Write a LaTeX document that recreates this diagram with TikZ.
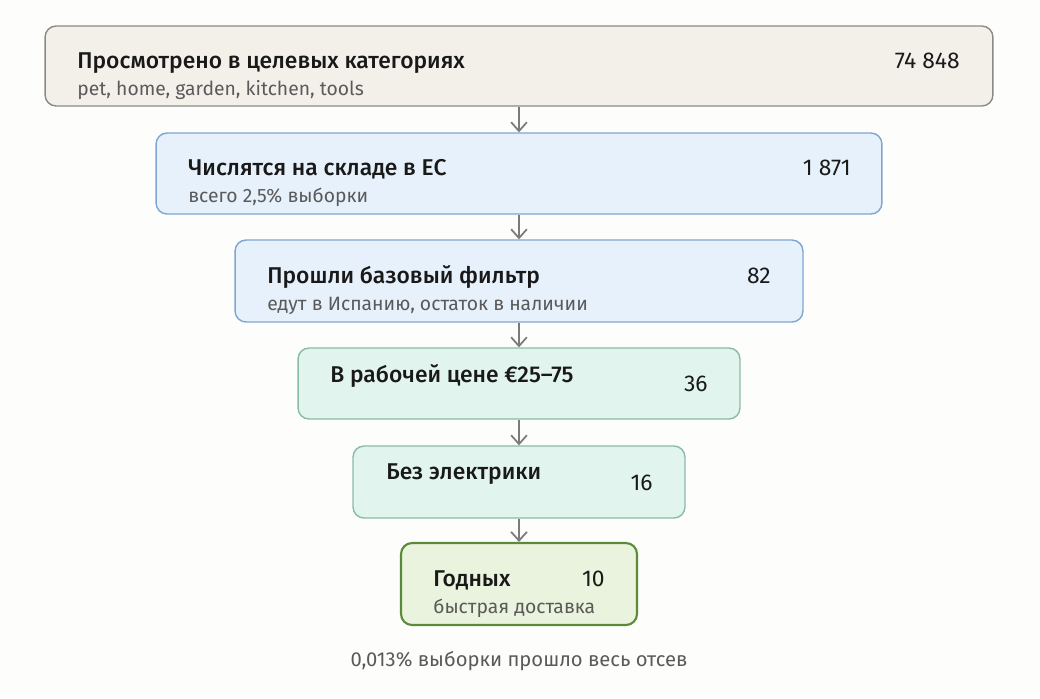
\documentclass[tikz,border=0pt]{standalone}
\usepackage{fontspec}
\setmainfont{Fira Sans}[BoldFont={Fira Sans Medium}]
\usetikzlibrary{arrows.meta}

\definecolor{paper}{HTML}{FDFDFB}
\definecolor{beigefill}{HTML}{F3F0EA}
\definecolor{beigeline}{HTML}{8C8A85}
\definecolor{bluefill}{HTML}{E7F1FB}
\definecolor{blueline}{HTML}{7FA6D3}
\definecolor{tealfill}{HTML}{E2F4EE}
\definecolor{tealline}{HTML}{8ABBA8}
\definecolor{leaffill}{HTML}{EAF3DD}
\definecolor{leafline}{HTML}{5B8A3A}
\definecolor{subgray}{HTML}{5A5A5A}
\definecolor{arrowgray}{HTML}{7B7B7B}

\tikzset{
    stage/.style={draw, rounded corners=0.22cm, line width=0.8pt, inner sep=0pt},
    title/.style={anchor=base west, inner sep=0pt, text=black!90, font=\bfseries\fontsize{13}{15}\selectfont},
    count/.style={anchor=base east, inner sep=0pt, text=black!90, font=\fontsize{13}{15}\selectfont},
    note/.style={anchor=base west, inner sep=0pt, text=subgray, font=\fontsize{11}{13}\selectfont},
    flow/.style={draw=arrowgray, line width=1pt, -{Straight Barb[length=5pt,width=9pt]}}
}

\begin{document}
\begin{tikzpicture}[x=0.02cm,y=-0.02cm]
    \fill [paper] (0,0) rectangle (1040,698);

    \node [stage, fill=beigefill, draw=beigeline, minimum width=18.96cm, minimum height=1.6cm] (viewed) at (519,66) {};
    \node [stage, fill=bluefill,  draw=blueline,  minimum width=14.52cm, minimum height=1.62cm] (stock)  at (519,173.5) {};
    \node [stage, fill=bluefill,  draw=blueline,  minimum width=11.36cm, minimum height=1.64cm] (basic)  at (519,281) {};
    \node [stage, fill=tealfill,  draw=tealline,  minimum width=8.84cm,  minimum height=1.42cm] (price)  at (519,383.5) {};
    \node [stage, fill=tealfill,  draw=tealline,  minimum width=6.64cm,  minimum height=1.44cm] (noelec) at (519,482) {};
    \node [stage, fill=leaffill,  draw=leafline,  line width=1.2pt, minimum width=4.72cm, minimum height=1.64cm] (good) at (519,584) {};

    \node [title] (viewedT) at (77,68)  {Просмотрено в целевых категориях};
    \node [note]  (viewedS) at (77,95)  {pet, home, garden, kitchen, tools};
    \node [count] (viewedN) at (960,68) {74 848};

    \node [title] (stockT) at (188,175) {Числятся на складе в ЕС};
    \node [note]  (stockS) at (188,202) {всего 2,5\% выборки};
    \node [count] (stockN) at (851,175) {1 871};

    \node [title] (basicT) at (267,283) {Прошли базовый фильтр};
    \node [note]  (basicS) at (267,310) {едут в Испанию, остаток в наличии};
    \node [count] (basicN) at (771,283) {82};

    \node [title] (priceT) at (330,382) {В рабочей цене €25–75};
    \node [count] (priceN) at (708,391) {36};

    \node [title] (noelecT) at (386,479) {Без электрики};
    \node [count] (noelecN) at (653,490) {16};

    \node [title] (goodT) at (433,586) {Годных};
    \node [count] (goodN) at (605,586) {10};
    \node [note]  (goodS) at (433,613) {быстрая доставка};

    \node [note, anchor=base, font=\fontsize{11.5}{13}\selectfont] (summary) at (519,666) {0,013\% выборки прошло весь отсев};

    \draw [flow] (viewed.south) -- (stock.north);
    \draw [flow] (stock.south)  -- (basic.north);
    \draw [flow] (basic.south)  -- (price.north);
    \draw [flow] (price.south)  -- (noelec.north);
    \draw [flow] (noelec.south) -- (good.north);
\end{tikzpicture}
\end{document}
